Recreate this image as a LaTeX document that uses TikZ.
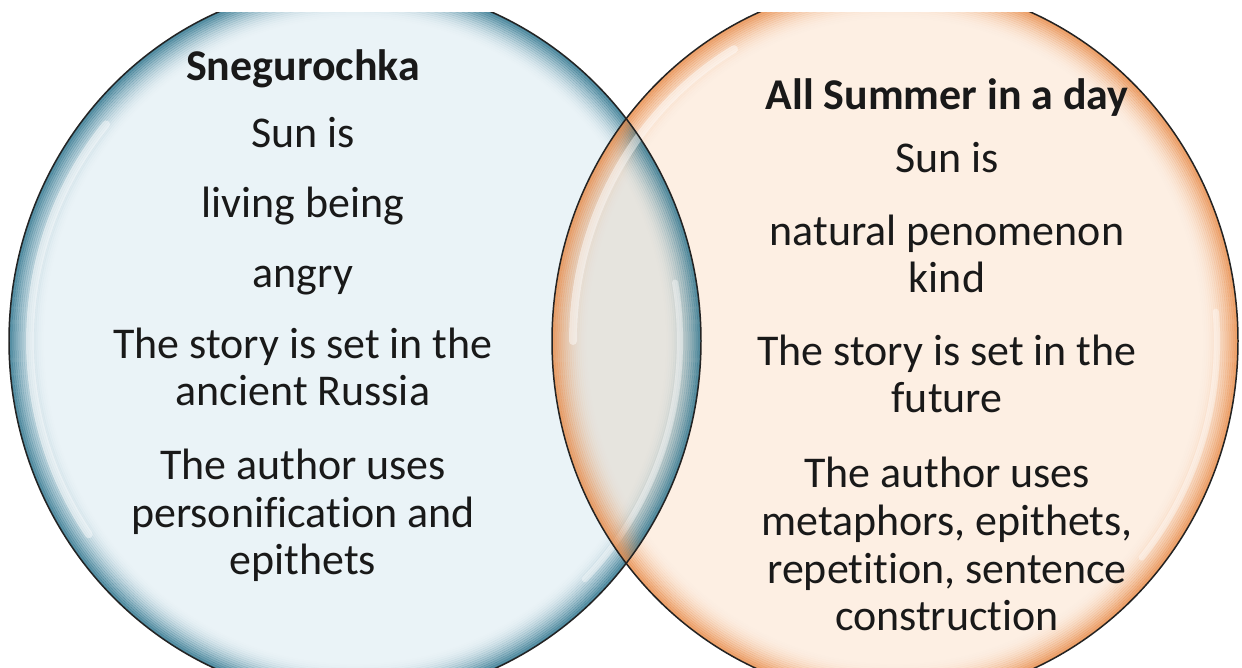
\documentclass[tikz,border=0pt]{standalone}
\usepackage{fontspec}
\setmainfont{Carlito}[Ligatures=NoCommon]

\definecolor{bluein}{RGB}{234,243,247}
\definecolor{blueedge}{RGB}{45,115,140}
\definecolor{orangein}{RGB}{253,239,227}
\definecolor{orangeedge}{RGB}{232,140,75}
\definecolor{lensfill}{RGB}{230,228,222}
\definecolor{rimline}{RGB}{35,35,35}
\definecolor{inktext}{RGB}{25,25,25}

\tikzset{
  vtext/.style={anchor=base,align=center,text=inktext,
    font=\fontsize{25}{27.2}\selectfont},
  vtitle/.style={vtext,font=\fontsize{25}{27.2}\selectfont\bfseries},
}

\begin{document}
\begin{tikzpicture}
        \useasboundingbox (0,0) rectangle (24.84,13.36);

        % Centres of the two ellipses
        \coordinate (lc) at (7.10,6.54);
        \coordinate (rc) at (17.90,6.54);

        \begin{scope}
            \clip (0,0) rectangle (24.84,13.10);

            % Flat fills
            \fill[bluein] (lc) ellipse [x radius=6.92, y radius=7.16];
            \fill[orangein] (rc) ellipse [x radius=6.86, y radius=7.16];
            \begin{scope}
                \clip (lc) ellipse [x radius=6.92, y radius=7.16];
                \fill[lensfill] (rc) ellipse [x radius=6.86, y radius=7.16];
            \end{scope}

            % Blue rim (left)
            \begin{scope}
                \clip (lc) ellipse [x radius=6.92, y radius=7.16];
                \foreach \k [evaluate=\k as \op using {0.85*(1-\k/18)^2}] in {0,...,17} {
                    \draw[blueedge,line width=0.045cm,opacity=\op]
                        (lc) ellipse [x radius=6.92-\k*0.04, y radius=7.16-\k*0.04];
                }
                % gloss
                \draw[white,line width=0.16cm,opacity=0.45,line cap=round]
                    (lc) ++(140:6.50 and 6.74) arc [start angle=140, end angle=215, x radius=6.50, y radius=6.74];
                \draw[white,line width=0.12cm,opacity=0.4,line cap=round]
                    (lc) ++(-45:6.50 and 6.74) arc [start angle=-45, end angle=10, x radius=6.50, y radius=6.74];
            \end{scope}

            % Orange rim (right)
            \begin{scope}
                \clip (rc) ellipse [x radius=6.86, y radius=7.16];
                \foreach \k [evaluate=\k as \op using {0.85*(1-\k/18)^2}] in {0,...,17} {
                    \draw[orangeedge,line width=0.045cm,opacity=\op]
                        (rc) ellipse [x radius=6.86-\k*0.04, y radius=7.16-\k*0.04];
                }
                % gloss
                \draw[white,line width=0.16cm,opacity=0.45,line cap=round]
                    (rc) ++(120:6.44 and 6.74) arc [start angle=120, end angle=180, x radius=6.44, y radius=6.74];
                \draw[white,line width=0.12cm,opacity=0.4,line cap=round]
                    (rc) ++(-40:6.44 and 6.74) arc [start angle=-40, end angle=5, x radius=6.44, y radius=6.74];
            \end{scope}

            % Outlines
            \draw[rimline,line width=0.85pt] (lc) ellipse [x radius=6.92, y radius=7.16];
            \draw[rimline,line width=0.85pt] (rc) ellipse [x radius=6.86, y radius=7.16];
        \end{scope}

        % Left texts (base = last line)
        \node[vtitle] (sneg) at (6.06,11.74) {Snegurochka};
        \node[vtext] (lsun) at (6.06,10.40) {Sun is};
        \node[vtext] (lliving) at (6.06,9.00) {living being};
        \node[vtext] (langry) at (6.06,7.60) {angry};
        \node[vtext] (lstory) at (6.06,5.24) {The story is set in the\\ancient Russia};
        \node[vtext] (lauthor) at (6.06,1.86) {The author uses\\personification and\\epithets};

        % Right texts
        \node[vtitle] (summer) at (18.94,11.16) {All Summer in a day};
        \node[vtext] (rsun) at (18.94,9.90) {Sun is};
        \node[vtext] (rnatural) at (18.94,7.50) {natural penomenon\\kind};
        \node[vtext] (rstory) at (18.94,5.10) {The story is set in the\\future};
        \node[vtext] (rauthor) at (18.94,0.74) {The author uses\\metaphors, epithets,\\repetition, sentence\\construction};
\end{tikzpicture}
\end{document}
